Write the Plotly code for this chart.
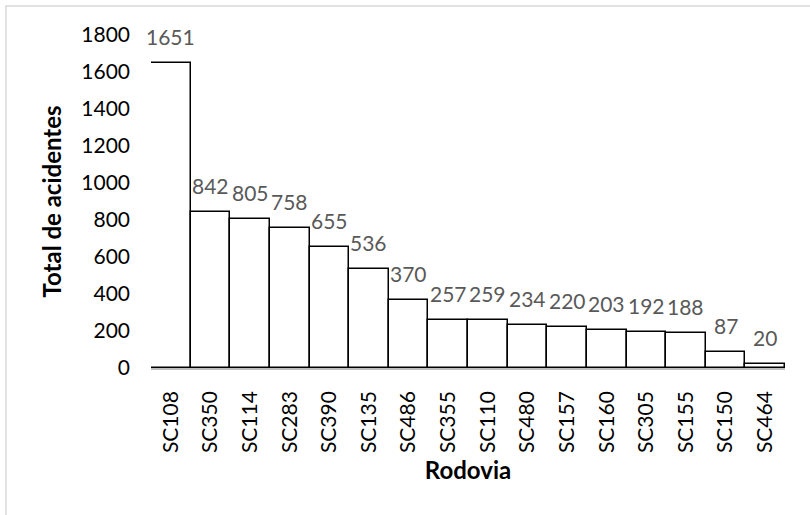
import plotly.graph_objects as go

# Accidents per highway (SC state roads)
rodovias = ["SC108", "SC350", "SC114", "SC283", "SC390", "SC135", "SC486", "SC355",
            "SC110", "SC480", "SC157", "SC160", "SC305", "SC155", "SC150", "SC464"]
acidentes = [1651, 842, 805, 758, 655, 536, 370, 257, 259, 234, 220, 203, 192, 188, 87, 20]
y_ticks = [0, 200, 400, 600, 800, 1000, 1200, 1400, 1600, 1800]

FONT = "Lato, 'Open Sans', sans-serif"

W, H = 810, 515
ML, MR, MT, MB = 151, 25, 35, 147
pw, ph = W - ML - MR, H - MT - MB

fig = go.Figure(go.Bar(
    x=rodovias,
    y=acidentes,
    marker=dict(color="white", line=dict(color="black", width=1.5)),
    cliponaxis=False,
))

# value labels above each bar
for cat, val in zip(rodovias, acidentes):
    fig.add_annotation(x=cat, y=val, text=str(val), showarrow=False,
                       xanchor="center", yanchor="bottom", yshift=12,
                       font=dict(family=FONT, size=21, color="#595959"))

# light grey frame around the chart area
fig.add_shape(type="rect", xref="paper", yref="paper",
              x0=(6 - ML) / pw, x1=(W + 20 - ML) / pw,
              y0=-(MB + 20) / ph, y1=(ph + MT - 6) / ph,
              line=dict(color="#d9d9d9", width=1.5), fillcolor="rgba(0,0,0,0)",
              layer="below")

fig.update_layout(
    width=W, height=H,
    margin=dict(l=ML, r=MR, t=MT, b=MB),
    paper_bgcolor="white", plot_bgcolor="white",
    bargap=0,
    showlegend=False,
    font=dict(family=FONT, size=21, color="black"),
    xaxis=dict(
        range=[-0.5, len(rodovias) - 0.5],
        tickangle=-90,
        automargin=False,
        showline=True, linecolor="#bfbfbf", linewidth=1.5,
        ticks="", showgrid=False,
        ticklabelstandoff=13,
        tickfont=dict(family=FONT, size=21, color="black"),
        title=dict(text="<b>Rodovia</b>", standoff=10,
                   font=dict(family=FONT, size=24, color="black")),
    ),
    yaxis=dict(
        range=[0, 1800],
        tickvals=y_ticks,
        automargin=False,
        showline=False, ticks="", showgrid=False, zeroline=False,
        ticklabelstandoff=20,
        tickfont=dict(family=FONT, size=21, color="black"),
        title=dict(text="<b>Total de acidentes</b>", standoff=12,
                   font=dict(family=FONT, size=24, color="black")),
    ),
)

fig.write_html("out.html")
